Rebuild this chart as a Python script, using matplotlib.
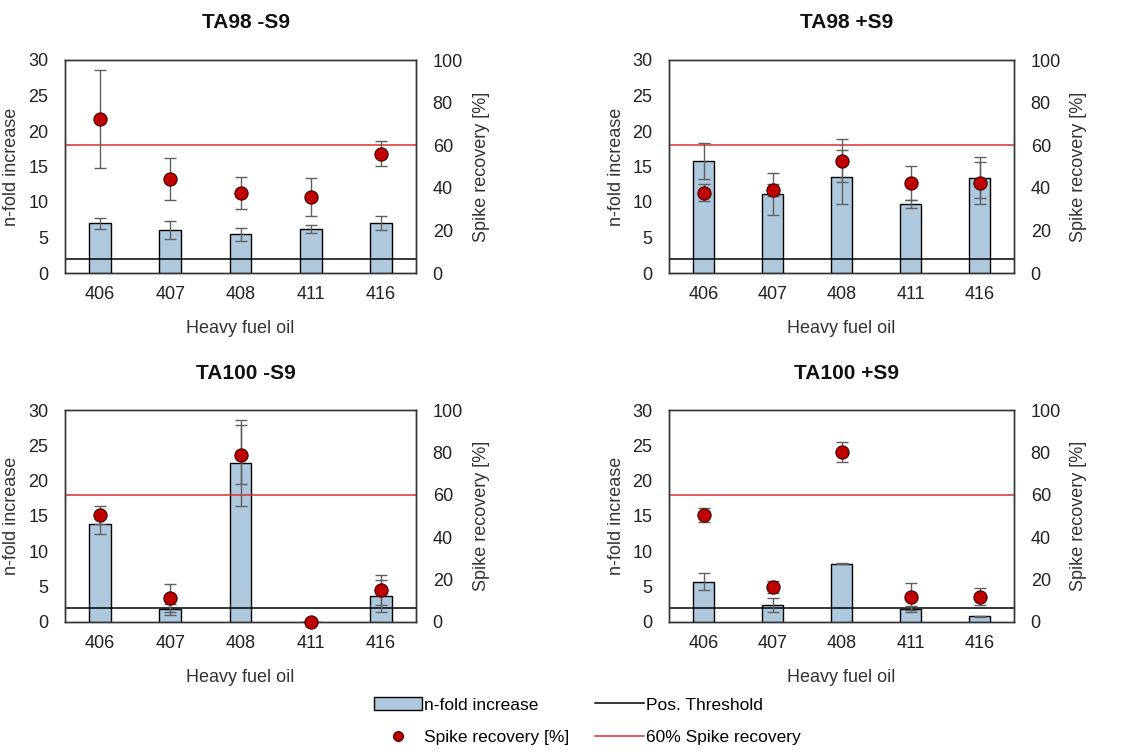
import numpy as np
import matplotlib.pyplot as plt

plt.rcParams['font.family'] = ['Liberation Sans', 'DejaVu Sans']

oils = ['406', '407', '408', '411', '416']
titles = ['TA98 -S9', 'TA98 +S9', 'TA100 -S9', 'TA100 +S9']

# n-fold increase (left axis) and its error
nfold = [
    [7.0, 6.05, 5.45, 6.25, 7.05],
    [15.8, 11.1, 13.5, 9.7, 13.45],
    [13.8, 1.8, 22.5, 0.0, 3.7],
    [5.7, 2.35, 8.25, 1.8, 0.8],
]
nfold_err = [
    [0.8, 1.25, 0.95, 0.55, 1.0],
    [2.55, 3.0, 3.8, 0.55, 2.85],
    [1.4, 0.8, 6.05, 0.0, 2.3],
    [1.2, 1.0, 0.05, 0.4, 0.1],
]
# spike recovery in % (right axis) and its error
spike = [
    [72.3, 44.2, 37.6, 35.7, 56.0],
    [37.6, 39.0, 52.7, 42.3, 42.3],
    [50.5, 11.2, 78.8, 0.0, 15.1],
    [50.6, 16.7, 80.4, 12.0, 12.0],
]
spike_err = [
    [23.0, 10.0, 7.5, 8.8, 5.9],
    [4.0, 3.0, 10.2, 8.0, 9.8],
    [4.4, 6.6, 13.9, 0.0, 7.0],
    [3.3, 2.8, 4.7, 6.3, 4.2],
]
threshold = 2
spike_limit = 60

bar_color = '#aec8dd'
dot_color = '#c00000'
err_color = '#606060'
red_line = '#d93030'

fig = plt.figure(figsize=(11.29, 7.56), dpi=100)
W, H = 1129, 756
boxes = [(65, 60, 351, 213), (669, 60, 345, 213),
         (65, 410, 351, 212), (669, 410, 345, 212)]

x = np.arange(len(oils))
for i, (l, t, w, h) in enumerate(boxes):
    ax = fig.add_axes([l / W, 1 - (t + h) / H, w / W, h / H])
    ax2 = ax.twinx()
    ax.set_zorder(ax2.get_zorder() + 1)
    ax.patch.set_visible(False)

    b = ax.bar(x, nfold[i], width=0.31, color=bar_color, edgecolor='black',
               linewidth=1.0, zorder=2)
    ax.errorbar(x, nfold[i], yerr=nfold_err[i], fmt='none', ecolor=err_color,
                elinewidth=1.0, capsize=4.5, capthick=1.0, zorder=3)
    thr = ax.axhline(threshold, color='black', linewidth=1.1, zorder=2.5)
    red = ax.axhline(spike_limit * 30 / 100, color=red_line, linewidth=1.1, zorder=2.5)

    # spike recovery shares the plotting axes, scaled 0-100 -> 0-30
    sp = np.array(spike[i]) * 30 / 100
    spe = np.array(spike_err[i]) * 30 / 100
    ax.errorbar(x, sp, yerr=spe, fmt='none', ecolor=err_color,
                elinewidth=1.0, capsize=4.5, capthick=1.0, zorder=4)
    dots, = ax.plot(x, sp, 'o', color=dot_color, markersize=9.5,
                    markeredgecolor='#400000', markeredgewidth=0.8,
                    linestyle='none', zorder=5, clip_on=False)

    ax.set_xlim(-0.5, 4.5)
    ax.set_ylim(0, 30)
    ax.set_yticks(range(0, 31, 5))
    ax.set_xticks(x, oils)
    ax2.set_ylim(0, 100)
    ax2.set_yticks(range(0, 101, 20))

    for a in (ax, ax2):
        a.tick_params(length=0, labelsize=13, colors='#222222')
        for s in a.spines.values():
            s.set_color('#333333')
            s.set_linewidth(1.0)
    ax.tick_params(axis='y', pad=12)
    ax.tick_params(axis='x', pad=9)
    ax2.tick_params(axis='y', pad=12)

    ax.set_xlabel('Heavy fuel oil', fontsize=13, color='#333333')
    ax.xaxis.set_label_coords(0.5, -0.22)
    ax.set_ylabel('n-fold increase', fontsize=13, color='#333333')
    ax.yaxis.set_label_coords(-0.128, 0.5)
    ax2.set_ylabel('Spike recovery [%]', fontsize=13, color='#333333')
    ax2.yaxis.set_label_coords(1.162, 0.5)
    ax.text(0.515, 1.174, titles[i], transform=ax.transAxes, ha='center',
            va='center', fontsize=15, fontweight='bold', color='#111111')

fig.legend([b, dots, thr, red],
           ['n-fold increase', 'Spike recovery [%]', 'Pos. Threshold',
            '60% Spike recovery'],
           ncol=2, loc='center', bbox_to_anchor=(0.52, 0.046), frameon=False,
           fontsize=12.5, handlelength=2.8, handletextpad=0.1,
           columnspacing=1.5, labelspacing=1.0, markerscale=0.75)

fig.savefig('out.png', dpi=100)
